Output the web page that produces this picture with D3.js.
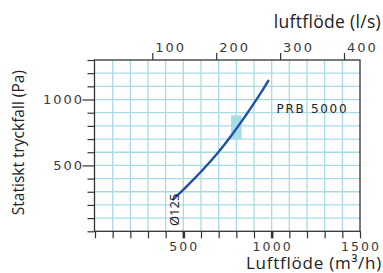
<!DOCTYPE html>
<html>
  <head>
    <meta charset="UTF-8">
    <title>PRB 5000 tryckfall</title>
    <script src="https://d3js.org/d3.v7.min.js"></script>
    <style>
      body { margin: 0; background: #fff; }
      svg { display: block; }
    </style>
  </head>
  <body>
    <div id="chart"></div>
    <script>
      // Curve: air flow (m3/h) vs static pressure drop (Pa)
      const flowM3h = [443, 519, 613, 707, 774, 830, 896, 943, 981];
      const pressurePa = [242, 340, 468, 612, 730, 833, 964, 1058, 1142];

      // Highlighted operating area
      const markFlow = [770, 830];
      const markPressure = [700, 880];

      // Tick labels
      const bottomLabels = [500, 1000, 1500];
      const leftLabels = [500, 1000];
      const topLabels = [100, 200, 300, 400];

      const W = 383, H = 273;
      const plotLeft = 94.5, plotRight = 360, plotTop = 60, plotBottom = 231.3;

      const svg = d3.select("#chart")
        .append("svg")
        .attr("width", W)
        .attr("height", H);

      const x = d3.scaleLinear().domain([0, 1500]).range([95, plotRight]);
      const y = d3.scaleLinear().domain([0, 1300]).range([plotBottom, plotTop]);
      // top axis in l/s, slightly shifted in the original
      const xTop = d3.scaleLinear().domain([100, 400]).range([152.3, 344]);

      const gridColor = "#a9dbe7";
      const axisColor = "#333";
      const tickFont = "DejaVu Sans";

      // grid
      svg.append("g")
        .selectAll("line")
        .data(d3.range(100, 1500, 100))
        .join("line")
        .attr("x1", d => x(d)).attr("x2", d => x(d))
        .attr("y1", plotTop).attr("y2", plotBottom)
        .attr("stroke", gridColor)
        .attr("stroke-width", 1.3);

      svg.append("g")
        .selectAll("line")
        .data(d3.range(100, 1300, 100))
        .join("line")
        .attr("x1", plotLeft).attr("x2", plotRight)
        .attr("y1", d => y(d)).attr("y2", d => y(d))
        .attr("stroke", gridColor)
        .attr("stroke-width", 1.3);

      // marker rectangle
      svg.append("rect")
        .attr("x", x(markFlow[0]))
        .attr("y", y(markPressure[1]))
        .attr("width", x(markFlow[1]) - x(markFlow[0]))
        .attr("height", y(markPressure[0]) - y(markPressure[1]))
        .attr("fill", "#a6dcea");

      // frame
      svg.append("rect")
        .attr("x", plotLeft).attr("y", plotTop)
        .attr("width", plotRight - plotLeft).attr("height", plotBottom - plotTop)
        .attr("fill", "none")
        .attr("stroke", axisColor)
        .attr("stroke-width", 1.3);

      // bottom axis
      const bx = svg.append("g")
        .attr("transform", `translate(0,${plotBottom})`)
        .call(d3.axisBottom(x).tickValues(d3.range(0, 1501, 100)).tickSize(7).tickFormat(""));
      bx.select(".domain").remove();
      bx.selectAll(".tick line")
        .attr("stroke", axisColor)
        .attr("stroke-width", d => (d === 500 || d === 1000) ? 2.6 : 1.2);

      svg.append("g")
        .selectAll("text")
        .data(bottomLabels)
        .join("text")
        .attr("x", d => x(d) + 1)
        .attr("y", 250.5)
        .attr("text-anchor", "middle")
        .attr("font-family", tickFont)
        .attr("font-size", 12.5)
        .attr("letter-spacing", 2.1)
        .attr("fill", "#3a3a3a")
        .text(d => d);

      // left axis
      const ly = svg.append("g")
        .attr("transform", `translate(${plotLeft},0)`)
        .call(d3.axisLeft(y).tickValues(d3.range(0, 1301, 100)).tickSize(7).tickFormat(""));
      ly.select(".domain").remove();
      ly.selectAll(".tick line")
        .attr("stroke", axisColor)
        .attr("stroke-width", 1.2)
        .attr("x2", d => leftLabels.includes(d) ? -12 : -7);

      svg.append("g")
        .selectAll("text")
        .data(leftLabels)
        .join("text")
        .attr("x", 84)
        .attr("y", d => y(d) + 4.7)
        .attr("text-anchor", "end")
        .attr("font-family", tickFont)
        .attr("font-size", 13)
        .attr("letter-spacing", 2)
        .attr("fill", "#3a3a3a")
        .text(d => d);

      // top axis (l/s)
      const tx = svg.append("g")
        .attr("transform", `translate(0,${plotTop})`)
        .call(d3.axisTop(xTop).tickValues(topLabels).tickSize(7).tickFormat(""));
      tx.select(".domain").remove();
      tx.selectAll(".tick line")
        .attr("stroke", axisColor)
        .attr("stroke-width", 1.2);

      svg.append("g")
        .selectAll("text")
        .data(topLabels)
        .join("text")
        .attr("x", d => xTop(d) + 3)
        .attr("y", 52)
        .attr("font-family", tickFont)
        .attr("font-size", 13)
        .attr("letter-spacing", 2)
        .attr("fill", "#3a3a3a")
        .text(d => d);

      // curve
      const points = flowM3h.map((f, i) => [f, pressurePa[i]]);
      svg.append("path")
        .datum(points)
        .attr("fill", "none")
        .attr("stroke", "#1f50a3")
        .attr("stroke-width", 2.4)
        .attr("stroke-linecap", "round")
        .attr("d", d3.line()
          .x(d => x(d[0]))
          .y(d => y(d[1]))
          .curve(d3.curveBasis));

      // annotations
      svg.append("text")
        .attr("x", 276.5)
        .attr("y", 112.5)
        .attr("font-family", tickFont)
        .attr("font-size", 12)
        .attr("letter-spacing", 1.7)
        .attr("fill", "#222")
        .text("PRB 5000");

      svg.append("text")
        .attr("transform", "translate(179,226) rotate(-90)")
        .attr("font-family", "Open Sans")
        .attr("font-size", 13)
        .attr("fill", "#222")
        .text("Ø125");

      // axis titles
      svg.append("text")
        .attr("x", 381)
        .attr("y", 28)
        .attr("text-anchor", "end")
        .attr("font-family", "Open Sans")
        .attr("font-size", 17.5)
        .attr("letter-spacing", 0.3)
        .attr("fill", "#222")
        .text("luftflöde (l/s)");

      svg.append("text")
        .attr("x", 382)
        .attr("y", 268.5)
        .attr("text-anchor", "end")
        .attr("font-family", "Open Sans")
        .attr("font-size", 17)
        .attr("letter-spacing", 0.75)
        .attr("fill", "#222")
        .text("Luftflöde (m³/h)");

      svg.append("text")
        .attr("transform", `translate(24,${(plotTop + plotBottom) / 2 - 3}) rotate(-90)`)
        .attr("text-anchor", "middle")
        .attr("font-family", "Open Sans")
        .attr("font-size", 15.5)
        .attr("fill", "#222")
        .text("Statiskt tryckfall (Pa)");
    </script>
  </body>
</html>
